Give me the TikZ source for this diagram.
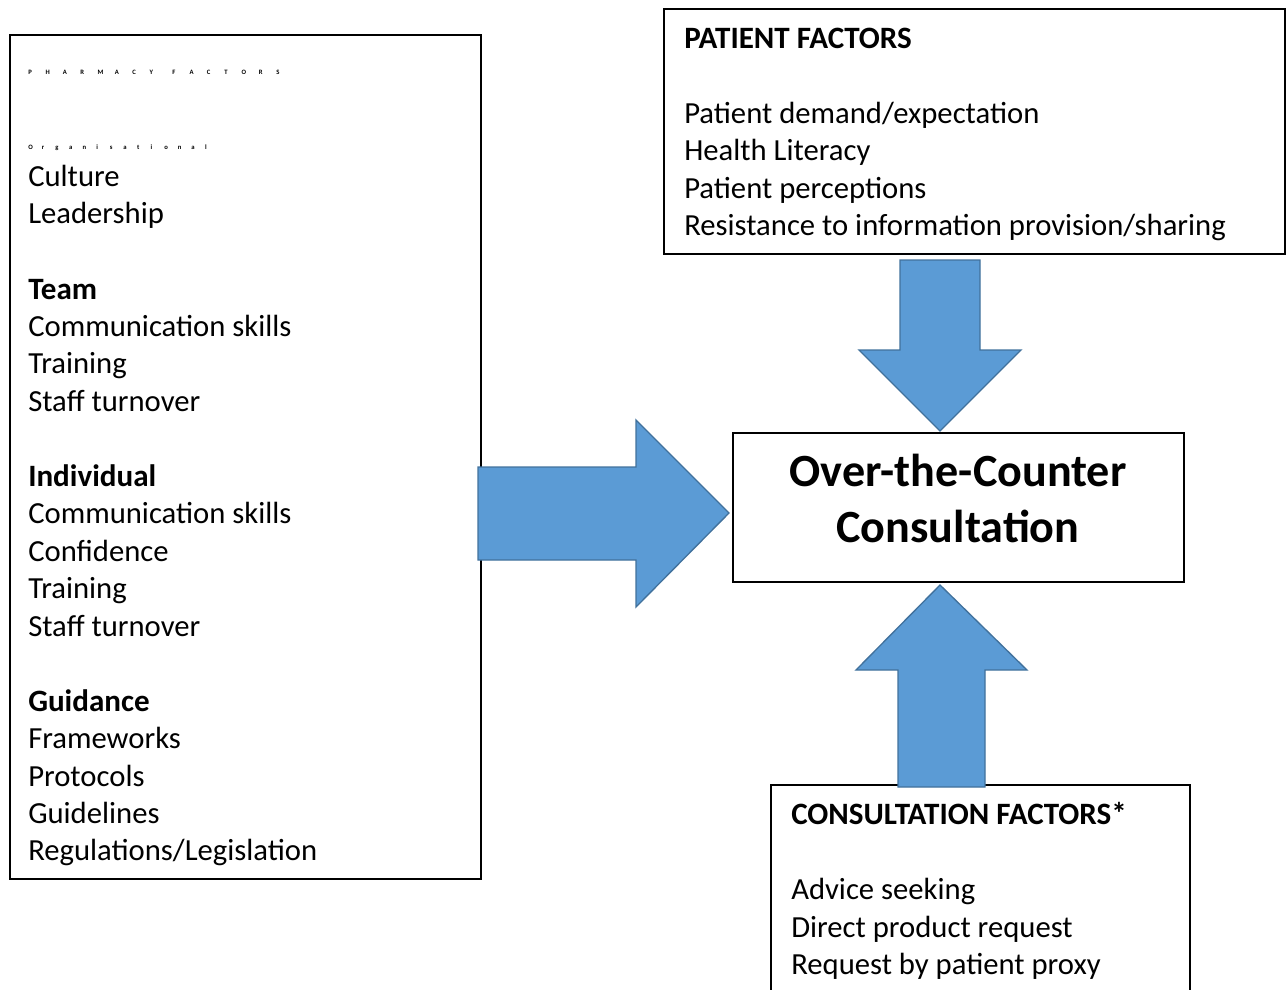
\documentclass[tikz,border=0pt]{standalone}
\usepackage{fontspec}
\setmainfont{Carlito}
\definecolor{arrowfill}{HTML}{5B9BD5}
\definecolor{arrowline}{HTML}{41719C}
% letter slots for the widely spaced small headings
\newcommand\slotA[1]{\makebox[13pt][l]{#1}}
\newcommand\slotB[1]{\makebox[10.2pt][l]{#1}}
\begin{document}
\begin{tikzpicture}[x=0.75pt,y=-0.75pt,
  box/.style={draw=black,line width=1.2pt},
  blockarrow/.style={fill=arrowfill,draw=arrowline,line width=1pt,line join=miter},
  txt/.style={anchor=base west,inner sep=0pt,font=\fontsize{23}{28}\selectfont},
  hd/.style={anchor=base west,inner sep=0pt,font=\fontsize{23.3}{28}\selectfont\bfseries},
  tiny/.style={anchor=base west,inner sep=0pt,font=\fontsize{5}{6}\selectfont\bfseries},
  big/.style={anchor=base,inner sep=0pt,font=\fontsize{34.6}{40}\selectfont\bfseries}]
\useasboundingbox (0,0) rectangle (1288,989);

% boxes
\draw[box] (10,35) rectangle (481,879);
\draw[box] (664,9) rectangle (1285,254);
\draw[box] (733,433) rectangle (1184,582);
\begin{scope}
  \clip (0,0) rectangle (1288,989);
  \draw[box] (771,1000) -- (771,785) -- (1190,785) -- (1190,1000);
\end{scope}

% block arrows
\draw[blockarrow] (900,260) -- (980,260) -- (980,350) -- (1021,350) -- (940,431)
  -- (859,350) -- (900,350) -- cycle;
\draw[blockarrow] (478,467) -- (636,467) -- (636,420) -- (729,513) -- (636,607)
  -- (636,560) -- (478,560) -- cycle;
\draw[blockarrow] (898,787) -- (898,670) -- (856,670) -- (940,585) -- (1027,670)
  -- (985,670) -- (985,787) -- cycle;

% pharmacy factors
\node[tiny] (ph) at (28,74) {\slotA{P}\slotA{H}\slotA{A}\slotA{R}\slotA{M}\slotA{A}\slotA{C}\slotA{Y}\hspace{4pt}\slotA{F}\slotA{A}\slotA{C}\slotA{T}\slotA{O}\slotA{R}\slotA{S}};
\node[tiny] (org) at (28,149) {\slotB{O}\slotB{r}\slotB{g}\slotB{a}\slotB{n}\slotB{i}\slotB{s}\slotB{a}\slotB{t}\slotB{i}\slotB{o}\slotB{n}\slotB{a}\slotB{l}};
\node[txt] (l1) at (28,186) {Culture};
\node[txt] (l2) at (28,223) {Leadership};
\node[hd]  (l3) at (28,299) {Team};
\node[txt] (l4) at (28,336) {Communication skills};
\node[txt] (l5) at (28,373) {Training};
\node[txt] (l6) at (28,411) {Staff turnover};
\node[hd]  (l7) at (28,486) {Individual};
\node[txt] (l8) at (28,523) {Communication skills};
\node[txt] (l9) at (28,561) {Confidence};
\node[txt] (l10) at (28,598) {Training};
\node[txt] (l11) at (28,636) {Staff turnover};
\node[hd]  (l12) at (28,711) {Guidance};
\node[txt] (l13) at (28,748) {Frameworks};
\node[txt] (l14) at (28,786) {Protocols};
\node[txt] (l15) at (28,823) {Guidelines};
\node[txt] (l16) at (28,860) {Regulations/Legislation};

% patient factors
\node[hd]  (p0) at (684,48) {PATIENT FACTORS};
\node[txt] (p1) at (684,123) {Patient demand/expectation};
\node[txt] (p2) at (684,160) {Health Literacy};
\node[txt] (p3) at (684,198) {Patient perceptions};
\node[txt] (p4) at (684,235) {Resistance to information provision/sharing};

% centre
\node[big] (c1) at (958,486) {Over-the-Counter};
\node[big] (c2) at (958,542) {Consultation};

% consultation factors
\node[hd]  (k0) at (791,824) {CONSULTATION FACTORS*};
\node[txt] (k1) at (791,899) {Advice seeking};
\node[txt] (k2) at (791,937) {Direct product request};
\node[txt] (k3) at (791,974) {Request by patient proxy};
\end{tikzpicture}
\end{document}
